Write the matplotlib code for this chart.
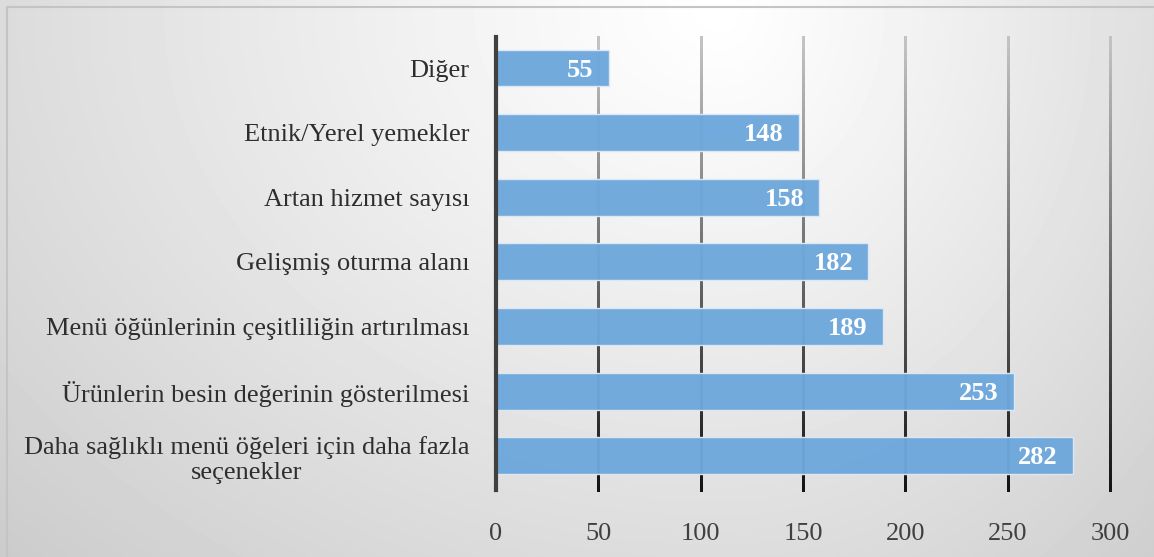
import numpy as np
import matplotlib.pyplot as plt
from matplotlib.collections import LineCollection

# data (top to bottom in the picture)
categories = [
    "Diğer",
    "Etnik/Yerel yemekler",
    "Artan hizmet sayısı",
    "Gelişmiş oturma alanı",
    "Menü öğünlerinin çeşitliliğin artırılması",
    "Ürünlerin besin değerinin gösterilmesi",
    "Daha sağlıklı menü öğeleri için daha fazla\nseçenekler",
]
values = [55, 148, 158, 182, 189, 253, 282]
xticks = [0, 50, 100, 150, 200, 250, 300]

W, H = 1154, 557
fig = plt.figure(figsize=(W / 100, H / 100), dpi=100)

# soft grey background, brightest near the top middle
bg = fig.add_axes([0, 0, 1, 1], zorder=0)
yy, xx = np.mgrid[0:H, 0:W]
dx = xx - 720.0
sx = np.where(dx < 0, 720.0, 480.0)
d = np.hypot(dx / sx, (yy - 10) / 560.0)
shade = np.clip(1.0 - 0.14 * d ** 1.1, 0, 1)
bg.imshow(shade, cmap="gray", vmin=0, vmax=1, aspect="auto",
          extent=[0, W, H, 0], interpolation="bilinear")
bg.plot([7, 7, W + 5], [H + 5, 7, 7], color="#c4c4c4", lw=1.5)
bg.set_xlim(0, W)
bg.set_ylim(H, 0)
bg.axis("off")

font = "Liberation Serif"
ax = fig.add_axes([496 / W, 1 - 490 / H, (1110 - 496) / W, (490 - 37) / H], zorder=1)
ax.patch.set_alpha(0)

ypos = np.arange(len(categories))[::-1]
ax.set_xlim(0, 300)
ax.set_ylim(-0.53, 6.48)

# gridlines fading from light grey at the top to black at the bottom
for x in xticks[1:]:
    ys = np.linspace(-0.53, 6.48, 60)
    segs = [[(x, ys[i]), (x, ys[i + 1])] for i in range(len(ys) - 1)]
    t = np.linspace(0, 1, len(segs))[::-1]
    cols = [(0.76 * (1 - v) + 0.08 * v,) * 3 for v in t]
    lc = LineCollection(segs, colors=cols, lw=1.8, zorder=1,
                        capstyle="projecting", antialiaseds=False)
    lc.set_clip_on(False)
    ax.add_collection(lc)

bars = ax.barh(ypos, values, height=0.57, color="#6fa8dc", edgecolor="#dce9f5",
               linewidth=1, alpha=0.97, zorder=2)

for b, v in zip(bars, values):
    ax.annotate(str(v), (v, b.get_y() + b.get_height() / 2), xytext=(-11, -1.5),
                textcoords="offset points", ha="right", va="center",
                color="white", fontsize=19, fontweight="bold", family=font, zorder=3)

ax.set_yticks(ypos)
ax.set_yticklabels(categories, fontsize=19, family=font, color="#2e2e2e",
                   multialignment="center")
ax.set_xticks(xticks)
ax.set_xticklabels([str(t) for t in xticks], fontsize=19, family=font, color="#404040")
ax.tick_params(axis="y", length=0, pad=19)
ax.tick_params(axis="x", length=0, pad=24)

for s in ["top", "right", "bottom"]:
    ax.spines[s].set_visible(False)
ax.spines["left"].set_color("#404040")
ax.spines["left"].set_linewidth(3)
ax.spines["left"].set_zorder(4)

fig.savefig("out.png", dpi=100)
